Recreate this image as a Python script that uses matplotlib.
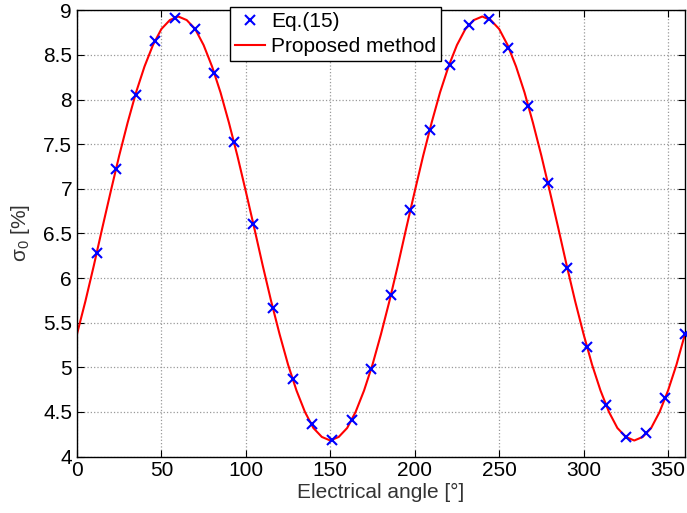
import matplotlib
matplotlib.use('Agg')
import matplotlib.pyplot as plt

plt.rcParams['font.family'] = ['Liberation Sans', 'DejaVu Sans']
plt.rcParams['mathtext.fontset'] = 'custom'
plt.rcParams['mathtext.rm'] = 'Liberation Sans'
plt.rcParams['mathtext.it'] = 'Liberation Sans'

# Eq.(15) markers
eq_angle = [11.61, 23.23, 34.84, 46.45, 58.06, 69.68, 81.29, 92.90, 104.52, 116.13,
            127.74, 139.35, 150.97, 162.58, 174.19, 185.81, 197.42, 209.03, 220.65, 232.26,
            243.87, 255.48, 267.10, 278.71, 290.32, 301.94, 313.55, 325.16, 336.77, 348.39,
            360.0]
eq_sigma = [6.28, 7.22, 8.05, 8.66, 8.91, 8.79, 8.30, 7.52, 6.60, 5.66,
            4.87, 4.36, 4.19, 4.41, 4.98, 5.81, 6.76, 7.66, 8.39, 8.83,
            8.90, 8.58, 7.93, 7.07, 6.11, 5.23, 4.58, 4.22, 4.26, 4.66,
            5.37]

# proposed method curve, read every 5 degrees
curve_angle = list(range(0, 365, 5))
curve_sigma = [5.37, 5.74, 6.14, 6.56, 6.97, 7.37, 7.74, 8.08, 8.37, 8.61,
               8.79, 8.89, 8.93, 8.89, 8.79, 8.61, 8.37, 8.08, 7.74, 7.37,
               6.97, 6.56, 6.14, 5.74, 5.37, 5.03, 4.74, 4.50, 4.32, 4.22,
               4.18, 4.22, 4.32, 4.50, 4.74, 5.03, 5.37, 5.74, 6.14, 6.56,
               6.97, 7.37, 7.74, 8.08, 8.37, 8.61, 8.79, 8.89, 8.93, 8.89,
               8.79, 8.61, 8.37, 8.08, 7.74, 7.37, 6.97, 6.56, 6.14, 5.74,
               5.37, 5.03, 4.74, 4.50, 4.32, 4.22, 4.18, 4.22, 4.32, 4.50,
               4.74, 5.03, 5.37]

fig = plt.figure(figsize=(6.87, 5.13), dpi=100)
ax = fig.add_axes([0.112, 0.110, 0.885, 0.870])

ax.plot(eq_angle, eq_sigma, 'x', color='blue', markersize=7, mew=1.5,
        label='Eq.(15)', clip_on=False, zorder=3)
ax.plot(curve_angle, curve_sigma, '-', color='red', lw=1.5,
        label='Proposed method', zorder=2)

ax.set_xlim(0, 360)
ax.set_ylim(4, 9)
ax.set_xticks(range(0, 351, 50))
ax.set_yticks([4, 4.5, 5, 5.5, 6, 6.5, 7, 7.5, 8, 8.5, 9])
ax.set_yticklabels(['4', '4.5', '5', '5.5', '6', '6.5', '7', '7.5', '8', '8.5', '9'])
ax.tick_params(direction='in', top=True, right=True, labelsize=15, length=5)
ax.grid(True, linestyle=':', color='#999999', lw=0.9)
for s in ax.spines.values():
    s.set_linewidth(1.0)

ax.set_xlabel('Electrical angle [°]', fontsize=15, color='#333333', labelpad=2)
ax.set_ylabel(r'σ$_0$ [%]', fontsize=15, color='#333333', labelpad=8)

leg = ax.legend(loc='upper left', bbox_to_anchor=(0.335, 0.987),
                bbox_transform=fig.transFigure, fontsize=15, fancybox=False,
                framealpha=1, edgecolor='black', borderpad=0.25,
                handlelength=1.4, handletextpad=0.3, labelspacing=0.3,
                borderaxespad=0)
leg.get_frame().set_linewidth(1.0)

fig.savefig('out.png', dpi=100)
